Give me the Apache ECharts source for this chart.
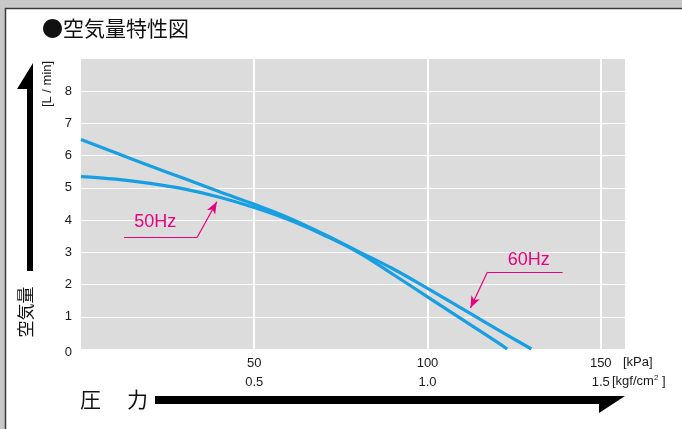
<!DOCTYPE html>
<html>
<head>
<meta charset="utf-8">
<script src="https://cdn.jsdelivr.net/npm/echarts@6/dist/echarts.min.js"></script>
<style>
  html, body { margin: 0; padding: 0; background: #c8c8c8; }
  #chart { width: 682px; height: 429px; }
</style>
</head>
<body>
<div id="chart"></div>
<script>
// Pressure (kPa) and air flow (L/min) for each supply frequency
const pressure60Hz = [0, 10, 20, 30, 40, 50, 60, 70, 80, 90, 100, 110, 120, 130];
const flow60Hz     = [6.5, 6.09, 5.68, 5.28, 4.88, 4.49, 4.07, 3.57, 3.03, 2.49, 1.88, 1.25, 0.62, 0];
const pressure50Hz = [0, 10, 20, 30, 40, 50, 60, 70, 80, 90, 100, 110, 120, 123];
const flow50Hz     = [5.35, 5.27, 5.14, 4.96, 4.71, 4.39, 4.01, 3.54, 3.0, 2.32, 1.62, 0.92, 0.22, 0];

// Axis tick labels: kPa row and kgf/cm2 row
const kPaTicks = [50, 100, 150];
const kPaLabels = ['50', '100', '150'];
const kgfLabels = ['0.5', '1.0', '1.5'];
const flowTicks = ['0', '1', '2', '3', '4', '5', '6', '7', '8'];

// Leader lines for the frequency callouts, in (kPa, L/min)
const label50Pos = [21.4, 3.94];
const leader50 = [[12.4, 3.46], [33.5, 3.46], [39.2, 4.57]];
const label60Pos = [129.2, 2.76];
const leader60 = [[139, 2.39], [117.3, 2.39], [112.4, 1.27]];

const pair = (xs, ys) => xs.map((x, i) => [x, ys[i]]);

const BLUE = '#179fe2';
const PINK = '#e4007f';
const FONT = '"Liberation Sans", Arial, sans-serif';
const JP = '"Noto Sans CJK JP", sans-serif';

function leaderLines(pts) {
  return [
    [{ coord: pts[0], symbol: 'none' }, { coord: pts[1], symbol: 'none' }],
    [{ coord: pts[1], symbol: 'none' }, { coord: pts[2], symbol: 'arrow', symbolSize: [7, 12] }]
  ];
}

const chart = echarts.init(document.getElementById('chart'), null, { renderer: 'canvas' });

chart.setOption({
  animation: false,
  backgroundColor: '#c8c8c8',
  grid: {
    left: 81, right: 57, top: 59, bottom: 80,
    show: true, backgroundColor: '#dcdcdc', borderWidth: 0
  },
  xAxis: {
    type: 'value', min: 0, max: 157, interval: 50,
    axisLine: { show: false }, axisTick: { show: false },
    splitLine: { show: true, showMinLine: false, showMaxLine: false, lineStyle: { color: '#ffffff', width: 2 } },
    axisLabel: {
      margin: 5,
      formatter: v => {
        const i = kPaTicks.indexOf(v);
        return i < 0 ? '' : '{a|' + kPaLabels[i] + '}\n{b|' + kgfLabels[i] + '}';
      },
      rich: {
        a: { fontFamily: FONT, fontSize: 13, color: '#1a1a1a', lineHeight: 19 },
        b: { fontFamily: FONT, fontSize: 13, color: '#1a1a1a', lineHeight: 19 }
      }
    }
  },
  yAxis: {
    type: 'value', min: 0, max: 9, interval: 1,
    axisLine: { show: false }, axisTick: { show: false },
    splitLine: { show: true, showMinLine: false, showMaxLine: false, lineStyle: { color: '#ffffff', width: 1.2 } },
    axisLabel: {
      margin: 9, fontFamily: FONT, fontSize: 13, color: '#1a1a1a',
      formatter: v => (v === 0 ? '{z|' + flowTicks[0] + '}' : v < flowTicks.length ? flowTicks[v] : ''),
      rich: { z: { fontFamily: FONT, fontSize: 13, color: '#1a1a1a', padding: [6, 0, 0, 0] } }
    }
  },
  series: [
    {
      name: '60Hz', type: 'line', smooth: 0.4, symbol: 'none',
      data: pair(pressure60Hz, flow60Hz),
      lineStyle: { color: BLUE, width: 3.2 },
      markLine: {
        silent: true, symbol: 'none', label: { show: false },
        lineStyle: { color: PINK, width: 1.2, type: 'solid' },
        data: leaderLines(leader60)
      },
      markPoint: {
        silent: true, symbol: 'circle', symbolSize: 1, itemStyle: { color: 'rgba(0,0,0,0)' },
        label: { show: true, position: 'inside', formatter: '60Hz', fontFamily: FONT, fontSize: 18, color: PINK },
        data: [{ coord: label60Pos }]
      }
    },
    {
      name: '50Hz', type: 'line', smooth: 0.4, symbol: 'none',
      data: pair(pressure50Hz, flow50Hz),
      lineStyle: { color: BLUE, width: 3.2 },
      markLine: {
        silent: true, symbol: 'none', label: { show: false },
        lineStyle: { color: PINK, width: 1.2, type: 'solid' },
        data: leaderLines(leader50)
      },
      markPoint: {
        silent: true, symbol: 'circle', symbolSize: 1, itemStyle: { color: 'rgba(0,0,0,0)' },
        label: { show: true, position: 'inside', formatter: '50Hz', fontFamily: FONT, fontSize: 18, color: PINK },
        data: [{ coord: label50Pos }]
      }
    }
  ],
  graphic: [
    // white panel with dark top/left edge
    { type: 'rect', z: -10, shape: { x: 5.5, y: 8.5, width: 700, height: 450 },
      style: { fill: '#ffffff', stroke: '#3a3a3a', lineWidth: 1.5 } },
    { type: 'text', x: 42, y: 28,
      style: { text: '●空気量特性図', font: '21px ' + JP, fill: '#111', verticalAlign: 'middle' } },
    // vertical axis arrow
    { type: 'polygon',
      shape: { points: [[27, 271], [33, 271], [33, 63], [17, 89], [27, 89]] },
      style: { fill: '#000' } },
    { type: 'text', x: 26, y: 312, rotation: Math.PI / 2,
      style: { text: '空気量', font: '17px ' + JP, fill: '#111', align: 'center', verticalAlign: 'middle' } },
    { type: 'text', x: 47, y: 84, rotation: Math.PI / 2,
      style: { text: '[L / min]', font: '13px ' + FONT, fill: '#1a1a1a', align: 'center', verticalAlign: 'middle' } },
    // horizontal axis arrow
    { type: 'polygon',
      shape: { points: [[155, 396], [625, 396], [599, 413], [599, 404], [155, 404]] },
      style: { fill: '#000' } },
    { type: 'text', x: 80, y: 399,
      style: { text: '圧', font: '21px ' + JP, fill: '#111', verticalAlign: 'middle' } },
    { type: 'text', x: 127, y: 399,
      style: { text: '力', font: '21px ' + JP, fill: '#111', verticalAlign: 'middle' } },
    // units
    { type: 'text', x: 623, y: 362,
      style: { text: '[kPa]', font: '13px ' + FONT, fill: '#1a1a1a', verticalAlign: 'middle' } },
    { type: 'text', x: 612, y: 381,
      style: {
        text: '[kgf/cm{s|2} ]', fill: '#1a1a1a', verticalAlign: 'middle', fontFamily: FONT, fontSize: 13,
        rich: { s: { fontSize: 8, verticalAlign: 'top', padding: [0, 0, 6, 0], fontFamily: FONT, fill: '#1a1a1a' } }
      } }
  ]
});
</script>
</body>
</html>
